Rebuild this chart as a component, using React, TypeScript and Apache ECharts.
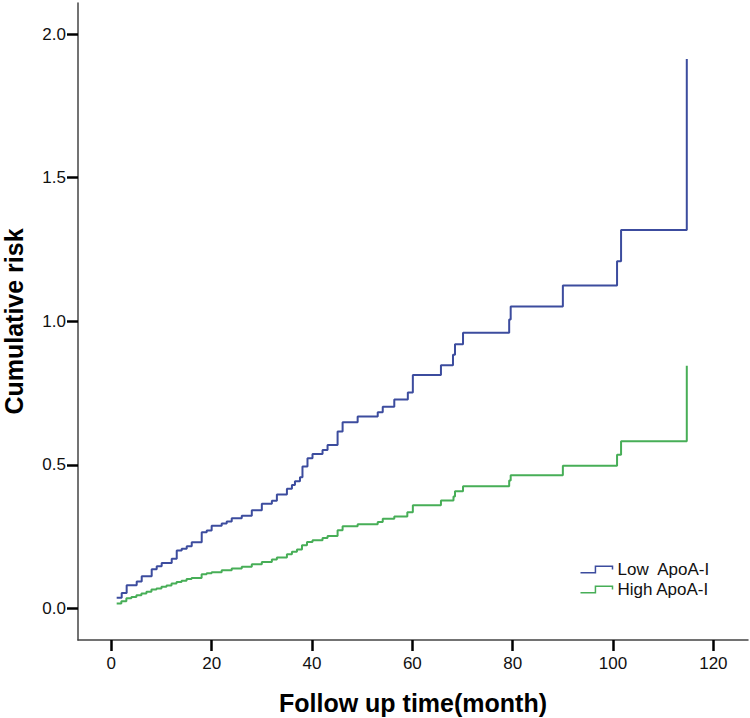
import React, { useEffect, useRef } from "react";
import * as echarts from "echarts";

// Step points: value becomes v at time t (months)
const lowTimes = [1.07, 2.07, 3.06, 5.06, 6.06, 8.05, 9.05, 10.04, 12.04, 13.04, 14.03, 15.03, 16.03, 18.02, 19.02, 20.0, 22.0, 23.0, 24.0, 26.0, 28.0, 30.0, 32.0, 33.0, 35.0, 36.0, 36.6, 37.6, 38.1, 39.1, 40.1, 42.1, 43.1, 45.1, 46.1, 49.1, 53.1, 54.1, 56.4, 59.1, 60.1, 65.7, 68.1, 68.5, 70.1, 79.3, 79.6, 90.0, 100.8, 101.6, 114.7];
const lowRisk = [0.037, 0.054, 0.081, 0.094, 0.112, 0.136, 0.147, 0.158, 0.173, 0.202, 0.208, 0.216, 0.23, 0.265, 0.271, 0.288, 0.296, 0.303, 0.314, 0.323, 0.342, 0.364, 0.375, 0.397, 0.417, 0.43, 0.443, 0.457, 0.494, 0.523, 0.538, 0.552, 0.569, 0.616, 0.648, 0.668, 0.683, 0.702, 0.727, 0.752, 0.8125, 0.847, 0.883, 0.92, 0.96, 1.006, 1.051, 1.124, 1.209, 1.318, 1.913];

const highTimes = [1.07, 2.0, 3.0, 4.0, 5.0, 6.0, 7.0, 8.0, 9.0, 10.0, 11.0, 12.0, 13.0, 14.0, 15.0, 16.0, 18.0, 19.0, 20.0, 22.0, 24.0, 26.0, 28.0, 30.0, 32.0, 33.0, 35.0, 36.0, 37.0, 38.0, 39.0, 40.1, 42.1, 43.1, 45.1, 46.1, 49.1, 53.1, 54.1, 56.4, 59.0, 60.1, 65.7, 68.2, 68.5, 70.1, 79.3, 79.6, 90.0, 100.8, 101.6, 114.7];
const highRisk = [0.017, 0.025, 0.035, 0.04, 0.046, 0.052, 0.058, 0.066, 0.069, 0.075, 0.08, 0.087, 0.092, 0.096, 0.102, 0.106, 0.119, 0.122, 0.126, 0.133, 0.139, 0.145, 0.154, 0.162, 0.17, 0.177, 0.189, 0.197, 0.205, 0.22, 0.231, 0.237, 0.245, 0.252, 0.272, 0.286, 0.293, 0.301, 0.312, 0.32, 0.335, 0.359, 0.376, 0.39, 0.408, 0.425, 0.445, 0.464, 0.497, 0.535, 0.582, 0.845];

const seriesNames = ["Low  ApoA-I", "High ApoA-I"];
const xTicks = [0, 20, 40, 60, 80, 100, 120];
const yTicks = [0, 0.5, 1.0, 1.5, 2.0];

const BLUE = "#3c4c9e";
const GREEN = "#47ae57";
const FONT = "'Liberation Sans', Arial, sans-serif";

export default function App() {
  const ref = useRef<HTMLDivElement>(null);
  useEffect(() => {
    if (!ref.current) return;
    const chart = echarts.init(ref.current, null, { renderer: "svg" });
    const low = lowTimes.map((t, i) => [t, lowRisk[i]]);
    const high = highTimes.map((t, i) => [t, highRisk[i]]);
    const stepIcon = "path://M0,6L14,6L14,0L30,0L30,3";
    chart.setOption({
      animation: false,
      backgroundColor: "#ffffff",
      grid: { left: 78, right: 2, top: 3, bottom: 78, containLabel: false, outerBoundsMode: "none" },
      legend: {
        orient: "vertical",
        left: 578,
        top: 561,
        padding: 0,
        itemWidth: 32,
        itemHeight: 14,
        itemGap: 3,
        textStyle: { fontFamily: FONT, fontSize: 17, color: "#111" },
        data: [
          { name: seriesNames[0], icon: stepIcon, itemStyle: { color: "none", borderColor: BLUE, borderWidth: 1.5 } },
          { name: seriesNames[1], icon: stepIcon, itemStyle: { color: "none", borderColor: GREEN, borderWidth: 1.5 } },
        ],
      },
      xAxis: {
        type: "value",
        min: -6.64,
        max: 126.9,
        name: "Follow up time(month)",
        nameLocation: "middle",
        nameGap: 50,
        nameTextStyle: { fontFamily: FONT, fontSize: 25, fontWeight: "bold", color: "#000" },
        axisLine: { onZero: false, lineStyle: { color: "#444", width: 1.5 } },
        axisTick: { show: true, customValues: xTicks, length: 11, lineStyle: { color: "#000", width: 2.5 } },
        axisLabel: { customValues: xTicks, margin: 15, fontFamily: FONT, fontSize: 17, color: "#111" },
        splitLine: { show: false },
      },
      yAxis: {
        type: "value",
        min: -0.11,
        max: 2.108,
        name: "Cumulative risk",
        nameLocation: "middle",
        nameGap: 52,
        nameTextStyle: { fontFamily: FONT, fontSize: 25, fontWeight: "bold", color: "#000" },
        axisLine: { onZero: false, lineStyle: { color: "#444", width: 1.5 } },
        axisTick: { show: true, customValues: yTicks, length: 11, lineStyle: { color: "#000", width: 2.5 } },
        axisLabel: {
          customValues: yTicks,
          margin: 12,
          fontFamily: FONT,
          fontSize: 17,
          color: "#111",
          formatter: (v: number) => v.toFixed(1),
        },
        splitLine: { show: false },
      },
      series: [
        {
          name: seriesNames[0],
          type: "line",
          step: "end",
          data: low,
          symbol: "none",
          showSymbol: false,
          lineStyle: { color: BLUE, width: 2 },
          itemStyle: { color: BLUE },
        },
        {
          name: seriesNames[1],
          type: "line",
          step: "end",
          data: high,
          symbol: "none",
          showSymbol: false,
          lineStyle: { color: GREEN, width: 2 },
          itemStyle: { color: GREEN },
        },
      ],
    });
    return () => chart.dispose();
  }, []);
  return (
    <div
      ref={ref}
      style={{ position: "fixed", left: 0, top: 0, width: 750, height: 718, background: "#fff" }}
    />
  );
}
